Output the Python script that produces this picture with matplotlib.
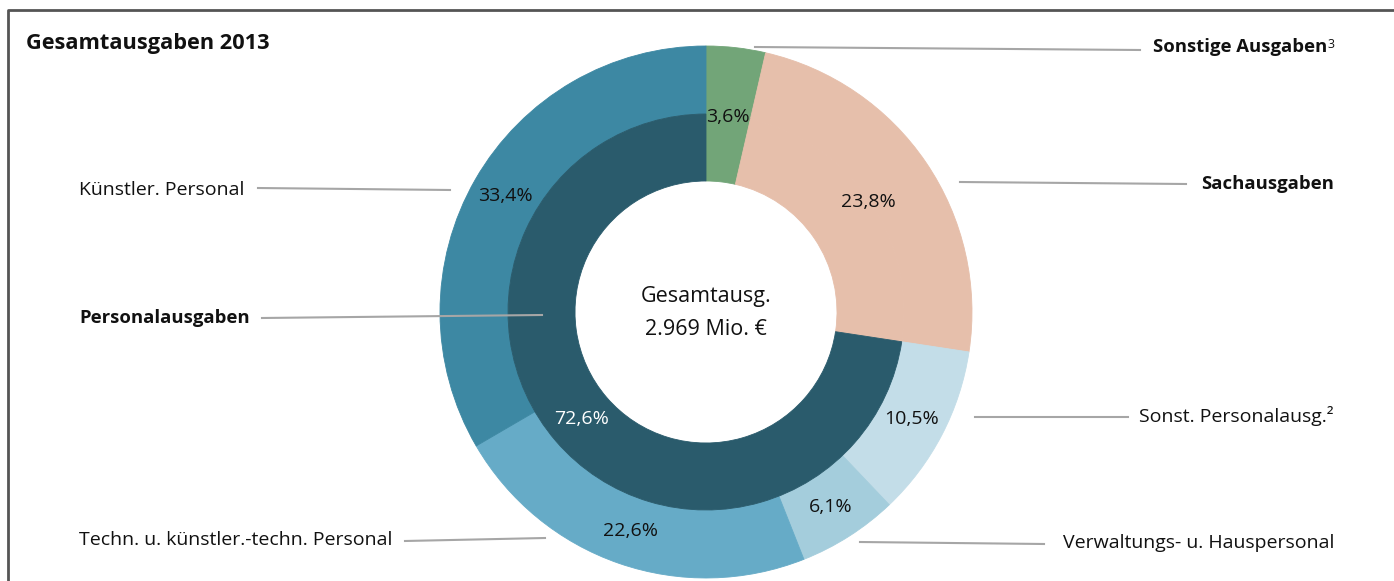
import numpy as np
import matplotlib.pyplot as plt

plt.rcParams['font.family'] = ['Open Sans', 'DejaVu Sans']

# outer ring (clockwise from 12 o'clock)
outer_names = ["Sonstige Ausgaben", "Sachausgaben", "Sonst. Personalausg.²",
               "Verwaltungs- u. Hauspersonal", "Techn. u. künstler.-techn. Personal",
               "Künstler. Personal"]
outer_vals = [3.6, 23.8, 10.5, 6.1, 22.6, 33.4]
outer_cols = ["#72a578", "#e6bfab", "#c3dde8", "#a4cddc", "#66abc7", "#3d88a3"]

# inner ring
inner_names = ["Sonstige Ausgaben", "Sachausgaben", "Personalausgaben"]
inner_vals = [3.6, 23.8, 72.6]
inner_cols = ["#72a578", "#e6bfab", "#2a5b6c"]

total = "2.969 Mio. €"

W, H = 1394, 581
fig = plt.figure(figsize=(W / 100, H / 100), dpi=100)

cx, cy, R = 706, 312, 266
ax = fig.add_axes([(cx - R) / W, (H - cy - R) / H, 2 * R / W, 2 * R / H])
r_mid, r_hole = 198 / R, 131 / R

w1, _ = ax.pie(outer_vals, colors=outer_cols, startangle=90, counterclock=False,
               radius=1.0, wedgeprops=dict(width=1.0 - r_mid, linewidth=0.6))
w2, _ = ax.pie(inner_vals, colors=inner_cols, startangle=90, counterclock=False,
               radius=r_mid, wedgeprops=dict(width=r_mid - r_hole, linewidth=0.6))
for w, c in zip(w1, outer_cols):
    w.set_edgecolor(c)
for w, c in zip(w2, inner_cols):
    w.set_edgecolor(c)
ax.set_xlim(-1, 1)
ax.set_ylim(-1, 1)
ax.axis("off")


def fmt(v):
    return ("%.1f%%" % v).replace(".", ",")


def mid_angles(vals):
    c = np.cumsum([0] + list(vals))
    return [90 - 3.6 * (a + b) / 2 for a, b in zip(c[:-1], c[1:])]


fs = 14
fsb = 13.3
tc = "#111111"
for i, (v, a) in enumerate(zip(outer_vals, mid_angles(outer_vals))):
    r = 0.737 if i < 2 else 0.872
    ax.text(r * np.cos(np.radians(a)), r * np.sin(np.radians(a)), fmt(v),
            ha="center", va="center", fontsize=fs, color=tc)
a = mid_angles(inner_vals)[2]
ax.text(0.615 * np.cos(np.radians(a)), 0.615 * np.sin(np.radians(a)), fmt(inner_vals[2]),
        ha="center", va="center", fontsize=fs, color="white")
ax.text(0, 0.06, "Gesamtausg.", ha="center", va="center", fontsize=15.5, color=tc)
ax.text(0, -0.065, total, ha="center", va="center", fontsize=15.5, color=tc)

# overlay in pixel coordinates for frame, leaders and labels
ov = fig.add_axes([0, 0, 1, 1], facecolor="none")
ov.set_xlim(0, W)
ov.set_ylim(H, 0)
ov.axis("off")
ov.plot([7.5, 7.5, W], [H, 10, 10], color="#555555", lw=2, solid_capstyle="butt")
ov.text(26, 44, "Gesamtausgaben 2013", fontsize=15.7, fontweight="bold",
        ha="left", va="center", color=tc)

lc = "#a6a6a6"
leaders = [
    ((755, 47), (1140, 50)),
    ((960, 182), (1186, 184)),
    ((975, 417), (1128, 417)),
    ((860, 542), (1044, 544)),
    ((258, 188), (450, 190)),
    ((262, 318), (542, 315)),
    ((405, 541), (545, 538)),
]
for (x0, y0), (x1, y1) in leaders:
    ov.plot([x0, x1], [y0, y1], color=lc, lw=1.5)

ov.text(1327, 47, outer_names[0], fontsize=fsb, fontweight="bold",
        ha="right", va="center", color=tc)
ov.text(1328, 45, "3", fontsize=9, ha="left", va="center", color=tc)
ov.text(1334, 184, outer_names[1], fontsize=fsb, fontweight="bold",
        ha="right", va="center", color=tc)
ov.text(1334, 416, outer_names[2], fontsize=fs, ha="right", va="center", color=tc)
ov.text(1334, 543, outer_names[3], fontsize=fs, ha="right", va="center", color=tc)
ov.text(79, 190, outer_names[5], fontsize=fs, ha="left", va="center", color=tc)
ov.text(79, 318, inner_names[2], fontsize=fsb, fontweight="bold",
        ha="left", va="center", color=tc)
ov.text(79, 540, outer_names[4], fontsize=fs, ha="left", va="center", color=tc)

fig.savefig("out.png", dpi=100)
